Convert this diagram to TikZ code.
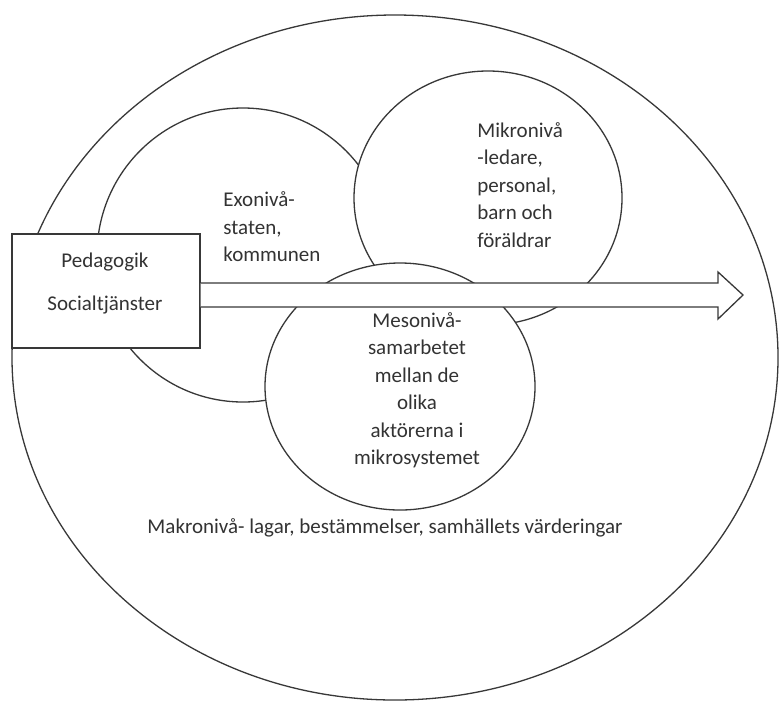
\documentclass[tikz,border=0pt]{standalone}
\usepackage{fontspec}
\setmainfont{Carlito}

\tikzset{
  linje/.style={draw=black!78, line width=0.65pt},
  niva/.style={linje, fill=white},
  txt/.style={inner sep=0pt, text=black!80, font=\fontsize{10.5}{13.75}\selectfont}
}

\begin{document}
\begin{tikzpicture}[x=0.5pt, y=-0.5pt]
        \useasboundingbox (0,0) rectangle (779,702);

        % makronivå
        \draw[niva] (395,357.5) ellipse [x radius=383, y radius=342.5];

        % exo, mikro, meso
        \draw[niva] (243,255) ellipse [x radius=146, y radius=147];
        \draw[niva] (488,198) ellipse [x radius=134, y radius=127];
        \draw[niva] (400,386.5) ellipse [x radius=135, y radius=123.5];

        % ruta
        \node[niva, minimum width=94pt, minimum height=57pt, inner sep=0pt] (ped) at (106,291) {};

        % pil
        \coordinate (spets) at (743,295);
        \draw[niva] (ped.east |- 0,283) -- (718,283) -- (718,272) -- (spets)
                -- (718,319) -- (718,307) -- (ped.east |- 0,307);

        \node[txt, align=center] (pedtxt) at (105,283.5) {Pedagogik\\[7.8pt]Socialtjänster};

        \node[txt, align=left, anchor=west] (exotxt) at (223,227) {Exonivå-\\staten,\\kommunen};
        \node[txt, align=left, anchor=west] (mikrotxt) at (477,185) {Mikronivå\\-ledare,\\personal,\\barn och\\föräldrar};
        \node[txt, align=center] (mesotxt) at (417,390) {Mesonivå-\\samarbetet\\mellan de\\olika\\aktörerna i\\mikrosystemet};

        \node[txt] (makrotxt) at (385,528) {Makronivå- lagar, bestämmelser, samhällets värderingar};

\end{tikzpicture}
\end{document}
